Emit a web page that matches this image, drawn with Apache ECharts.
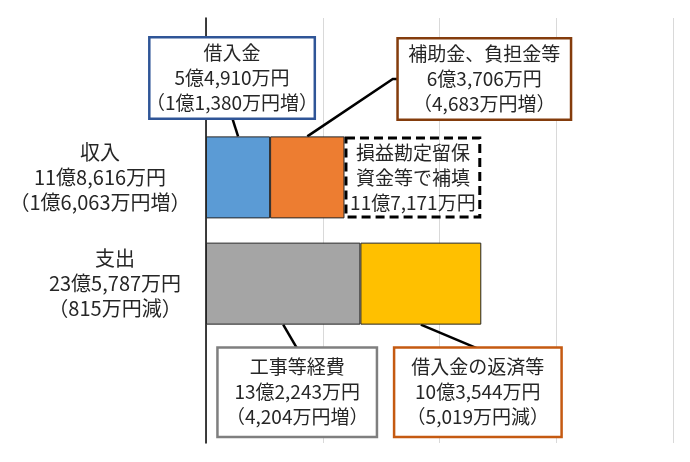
<!DOCTYPE html>
<html>
<head>
<meta charset="utf-8">
<script src="https://cdn.jsdelivr.net/npm/echarts@6/dist/echarts.min.js"></script>
<style>
  html, body { margin: 0; padding: 0; background: #fff; }
  #main { width: 690px; height: 462px; }
</style>
</head>
<body>
<div id="main"></div>
<script>
// 単位: 万円
var categories = ['', '収入', '支出', ' '];
var incomeSummary = ['収入', '11億8,616万円', '（1億6,063万円増）'];
var expenseSummary = ['支出', '23億5,787万円', '（815万円減）'];

var borrowing = [null, 54910, null, null];        // 借入金
var subsidies = [null, 63706, null, null];        // 補助金、負担金等
var reserveFunds = [null, 117171, null, null];    // 損益勘定留保資金等で補填
var constructionCost = [null, null, 132243, null]; // 工事等経費
var repayment = [null, null, 103544, null];       // 借入金の返済等

var borrowingText = ['借入金', '5億4,910万円', '（1億1,380万円増）'];
var subsidiesText = ['補助金、負担金等', '6億3,706万円', '（4,683万円増）'];
var reserveText = ['損益勘定留保', '資金等で補填', '11億7,171万円'];
var constructionText = ['工事等経費', '13億2,243万円', '（4,204万円増）'];
var repaymentText = ['借入金の返済等', '10億3,544万円', '（5,019万円減）'];

var xTicks = [0, 100000, 200000, 300000, 400000];

var FONT = '"Noto Sans CJK JP", "Noto Sans", sans-serif';
var TXT = '#262626';
var BAR_W = 82;
var LINE_H = 25;
var BOX_FS = 19;

var chart = echarts.init(document.getElementById('main'));

// 吹き出しラベル
function boxLabel(lines, pos, dx, dy, w, pad, border) {
	return {
		show: true,
		position: pos,
		distance: 0,
		offset: [dx, dy],
		formatter: lines.join('\n'),
		width: w,
		padding: [pad, 0],
		align: 'center',
		backgroundColor: '#fff',
		borderColor: border,
		borderWidth: 2.5,
		color: TXT,
		fontFamily: FONT,
		fontSize: BOX_FS,
		lineHeight: LINE_H
	};
}

var boxes = [
	{ series: 0, data: borrowing,        pos: 'top',    dx: -6,  dy: -19, w: 163, pad: 2, side: 'v' },
	{ series: 1, data: subsidies,        pos: 'top',    dx: 177, dy: -18, w: 171, pad: 2, side: 'left' },
	{ series: 3, data: constructionCost, pos: 'bottom', dx: 14,  dy: 24,  w: 157, pad: 6, side: 'v' },
	{ series: 4, data: repayment,        pos: 'bottom', dx: 57,  dy: 24,  w: 165, pad: 6, side: 'v' }
];

var option = {
	backgroundColor: '#fff',
	animation: false,
	textStyle: { fontFamily: FONT },
	grid: { left: 206, right: 17, top: 18, bottom: 19, containLabel: false, outerBoundsMode: 'none' },
	xAxis: {
		type: 'value',
		min: xTicks[0],
		max: xTicks[xTicks.length - 1],
		interval: xTicks[1] - xTicks[0],
		axisLabel: { show: false },
		axisTick: { show: false },
		axisLine: { show: false },
		splitLine: { lineStyle: { color: '#d9d9d9', width: 1 } }
	},
	yAxis: {
		type: 'category',
		inverse: true,
		data: categories.map(function (c) {
			return {
				value: c,
				textStyle: {
					align: 'center',
					padding: c === '支出' ? [17, 0, 0, 30] : [10, 0, 0, 0]
				}
			};
		}),
		axisLine: { lineStyle: { color: '#000', width: 1.5 } },
		axisTick: { show: false },
		axisLabel: {
			margin: 106,
			align: 'center',
			color: TXT,
			fontFamily: FONT,
			fontSize: 20,
			lineHeight: LINE_H,
			formatter: function (v) {
				if (v === '収入') return incomeSummary.join('\n');
				if (v === '支出') return expenseSummary.join('\n');
				return '';
			}
		}
	},
	series: [
		{
			name: '借入金', type: 'bar', stack: 'total', barWidth: BAR_W,
			data: borrowing,
			itemStyle: { color: '#5b9bd5', borderColor: '#262626', borderWidth: 1 },
			label: boxLabel(borrowingText, 'top', -6, -19, 163, 2, '#2f5597')
		},
		{
			name: '補助金、負担金等', type: 'bar', stack: 'total', barWidth: BAR_W,
			data: subsidies,
			itemStyle: { color: '#ed7d31', borderColor: '#262626', borderWidth: 1 },
			label: boxLabel(subsidiesText, 'top', 177, -18, 171, 2, '#843c0c')
		},
		{
			name: '損益勘定留保資金等で補填', type: 'bar', stack: 'total', barWidth: BAR_W,
			data: reserveFunds,
			itemStyle: { color: 'rgba(255,255,255,0)', borderColor: '#000', borderWidth: 3, borderType: [9, 5] },
			label: {
				show: true, position: 'inside',
				formatter: reserveText.join('\n'),
				color: TXT, fontFamily: FONT, fontSize: BOX_FS, lineHeight: LINE_H
			}
		},
		{
			name: '工事等経費', type: 'bar', stack: 'total', barWidth: BAR_W,
			data: constructionCost,
			itemStyle: { color: '#a5a5a5', borderColor: '#262626', borderWidth: 1 },
			label: boxLabel(constructionText, 'bottom', 14, 24, 157, 6, '#7f7f7f')
		},
		{
			name: '借入金の返済等', type: 'bar', stack: 'total', barWidth: BAR_W,
			data: repayment,
			itemStyle: { color: '#ffc000', borderColor: '#262626', borderWidth: 1 },
			label: boxLabel(repaymentText, 'bottom', 57, 24, 165, 6, '#c55a11')
		}
	]
};
chart.setOption(option);

// 引き出し線 (棒の端の中央から吹き出しへ)
var stackSeries = [borrowing, subsidies, reserveFunds, constructionCost, repayment];
function segmentMid(si, idx) {
	var start = 0;
	for (var k = 0; k < si; k++) {
		if (stackSeries[k][idx] != null) start += stackSeries[k][idx];
	}
	var x0 = chart.convertToPixel({ xAxisIndex: 0 }, start);
	var x1 = chart.convertToPixel({ xAxisIndex: 0 }, start + stackSeries[si][idx]);
	return (x0 + x1) / 2;
}

var lines = [];
boxes.forEach(function (b) {
	var idx = b.data.findIndex(function (v) { return v != null; });
	var cy = chart.convertToPixel({ yAxisIndex: 0 }, idx);
	var mx = segmentMid(b.series, idx);
	var edgeY = b.pos === 'top' ? cy - BAR_W / 2 : cy + BAR_W / 2;
	var boxH = 3 * LINE_H + 2 * b.pad;
	var boxCx = mx + b.dx;
	var boxEdge = edgeY + b.dy; // 吹き出しの近い側の辺
	var pts;
	if (b.side === 'left') {
		var midY = boxEdge - boxH / 2;
		var leftX = boxCx - b.w / 2;
		pts = [[mx, edgeY], [leftX - 6, midY], [leftX, midY]];
	} else {
		pts = [[mx, edgeY], [boxCx, boxEdge]];
	}
	lines.push({
		type: 'polyline', z: 1,
		shape: { points: pts },
		style: { stroke: '#000', lineWidth: 2.5, fill: null }
	});
});
chart.setOption({ graphic: lines });
</script>
</body>
</html>
